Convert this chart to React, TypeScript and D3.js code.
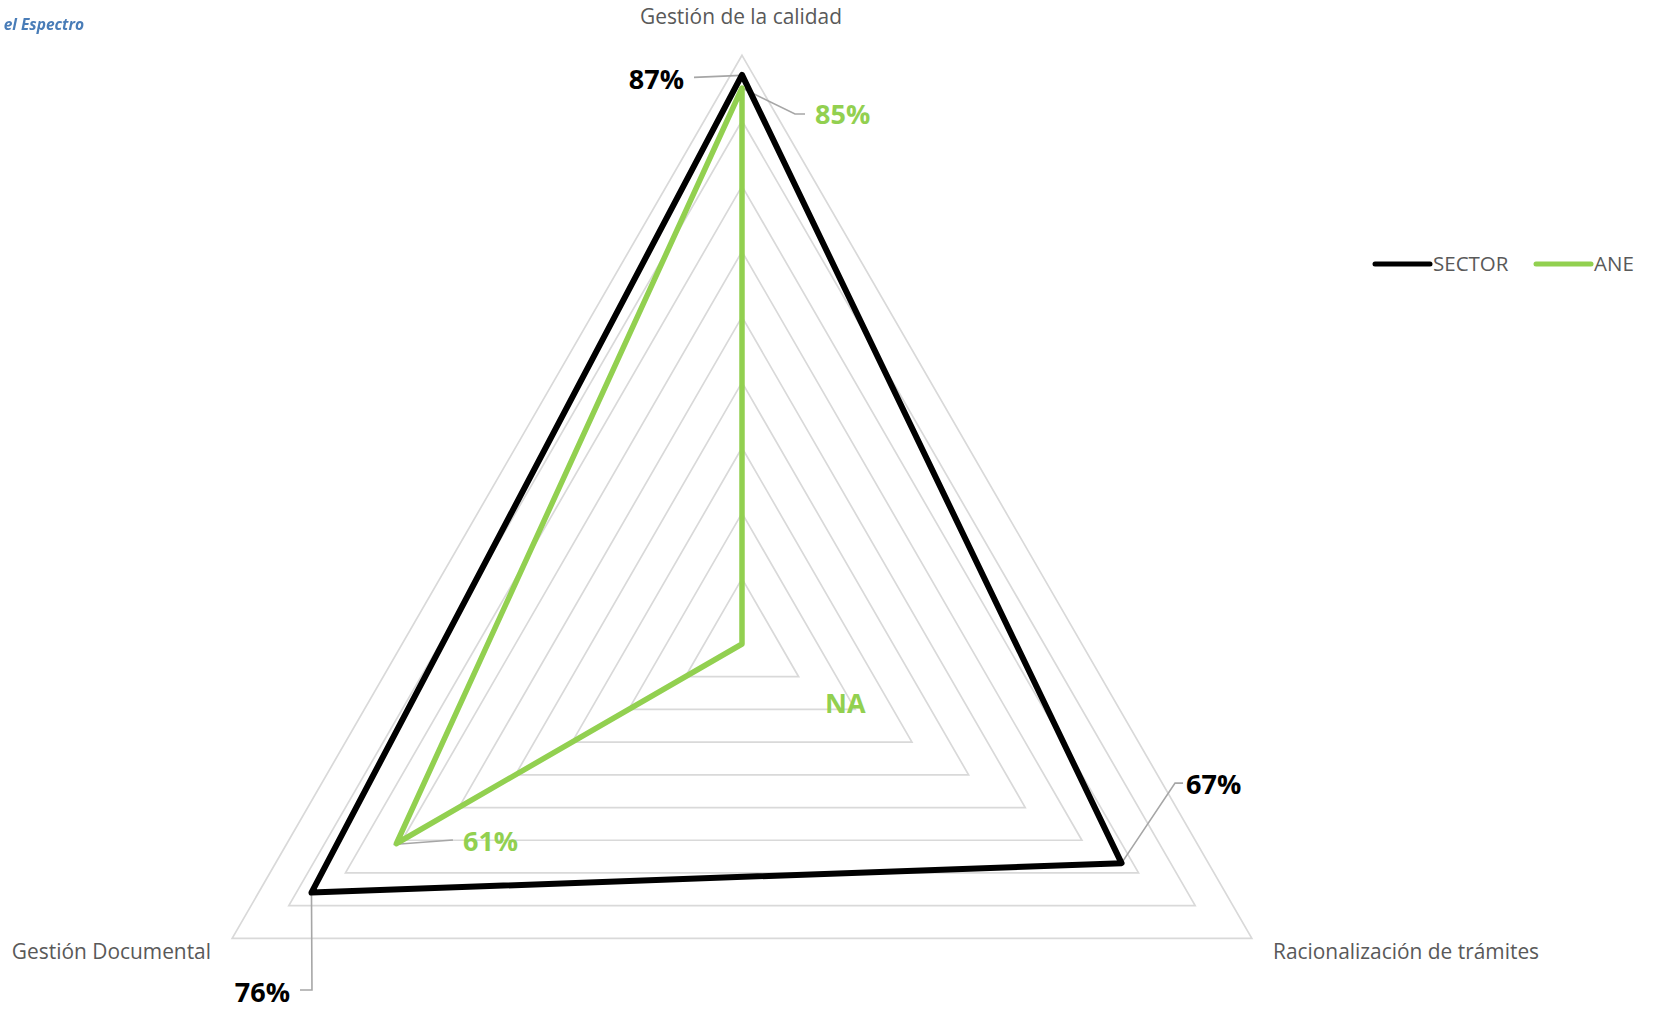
import React from "react";
import * as d3 from "d3";

const categories = ["Gestión de la calidad", "Racionalización de trámites", "Gestión Documental"];
const sectorValues: (number | null)[] = [0.87, 0.67, 0.76];
const aneValues: (number | null)[] = [0.85, null, 0.61];
const sectorLabels = ["87%", "67%", "76%"];
const aneLabels = ["85%", "NA", "61%"];
const gridTicks = [0.1, 0.2, 0.3, 0.4, 0.5, 0.6, 0.7, 0.8, 0.9];
const seriesNames = ["SECTOR", "ANE"];

const W = 1656;
const H = 1010;
const cx = 742;
const cy = 644;
const R = 588.7;
const FONT = "'Open Sans', sans-serif";
const GREEN = "#92D050";

// label placement offsets relative to each data point (layout, not data)
const sectorLabelLayout = [
  { dx: -58, dy: 13.7, anchor: "end", leader: [[-1, 0.5], [-48, 2.5]] },
  { dx: 64.5, dy: -69, anchor: "start", leader: [[0, 0], [53.5, -80], [61.5, -80]] },
  { dx: -21.5, dy: 109.4, anchor: "end", leader: [[0, 0], [0.5, 97.4], [-11.5, 97.4]] },
];
const aneLabelLayout = [
  { dx: 73, dy: 36, anchor: "start", leader: [[0, 0], [53, 26], [63, 26]] },
  { dx: 83, dy: 69, anchor: "start", leader: null },
  { dx: 66.5, dy: 7.5, anchor: "start", leader: [[-3, 1], [56.5, -3.5]] },
];

export default function App() {
  const r = d3.scaleLinear().domain([0, 0.9]).range([0, R]);
  const angle = d3
    .scaleLinear()
    .domain([0, categories.length])
    .range([0, 2 * Math.PI]);

  const pt = (i: number, v: number | null): [number, number] => {
    const a = angle(i);
    const rr = r(v ?? 0);
    return [cx + rr * Math.sin(a), cy - rr * Math.cos(a)];
  };

  const radial = d3
    .lineRadial<number | null>()
    .angle((_, i) => angle(i))
    .radius((d) => r(d ?? 0))
    .curve(d3.curveLinearClosed);

  const gridLine = d3
    .lineRadial<number>()
    .angle((_, i) => angle(i))
    .radius((d) => r(d))
    .curve(d3.curveLinearClosed);

  const series = [
    { name: seriesNames[0], values: sectorValues, labels: sectorLabels, layout: sectorLabelLayout, color: "#000000", width: 6, labelColor: "#000000" },
    { name: seriesNames[1], values: aneValues, labels: aneLabels, layout: aneLabelLayout, color: GREEN, width: 5.5, labelColor: GREEN },
  ];

  const catLabel = [
    { x: 741, y: 24, anchor: "middle" },
    { x: 1273, y: 959, anchor: "start" },
    { x: 211, y: 959, anchor: "end" },
  ];

  return (
    <svg
      width={W}
      height={H}
      style={{ position: "absolute", left: 0, top: 0, background: "#fff" }}
      fontFamily={FONT}
    >
      <defs>
        <filter id="blur" x="-10%" y="-30%" width="120%" height="160%">
          <feGaussianBlur stdDeviation="0.7" />
        </filter>
      </defs>
      <rect x={0} y={0} width={W} height={H} fill="#fff" />
      <text
        x={84}
        y={30}
        textAnchor="end"
        fontSize={15.5}
        fontWeight="bold"
        fontStyle="italic"
        fill="#4a7db8"
        filter="url(#blur)"
      >
        el Espectro
      </text>

      {/* grid */}
      <g>
        {gridTicks.map((t) => (
          <path
            key={t}
            transform={`translate(${cx},${cy})`}
            d={gridLine(categories.map(() => t)) || ""}
            fill="none"
            stroke="#d9d9d9"
            strokeWidth={1.7}
          />
        ))}
      </g>

      {/* category labels */}
      {categories.map((c, i) => (
        <text
          key={c}
          x={catLabel[i].x}
          y={catLabel[i].y}
          textAnchor={catLabel[i].anchor as any}
          fontSize={20.9}
          fill="#595959"
        >
          {c}
        </text>
      ))}

      {/* leader lines */}
      {series.map((s) =>
        s.values.map((v, i) => {
          const lay = s.layout[i];
          if (!lay.leader) return null;
          const [px, py] = pt(i, v);
          const d = d3.line()(lay.leader.map(([dx, dy]) => [px + dx, py + dy] as [number, number]));
          return (
            <path key={s.name + "l" + i} d={d || ""} fill="none" stroke="#a6a6a6" strokeWidth={1.6} />
          );
        })
      )}

      {/* series */}
      {series.map((s) => (
        <path
          key={s.name}
          transform={`translate(${cx},${cy})`}
          d={radial(s.values) || ""}
          fill="none"
          stroke={s.color}
          strokeWidth={s.width}
          strokeLinejoin="round"
        />
      ))}

      {/* data labels */}
      {series.map((s) =>
        s.values.map((v, i) => {
          const lay = s.layout[i];
          const [px, py] = pt(i, v);
          return (
            <text
              key={s.name + "t" + i}
              x={px + lay.dx}
              y={py + lay.dy}
              textAnchor={lay.anchor as any}
              fontSize={27}
              fontWeight="bold"
              fill={s.labelColor}
            >
              {s.labels[i]}
            </text>
          );
        })
      )}

      {/* legend */}
      {series.map((s, i) => {
        const lx = [1375, 1536][i];
        return (
          <g key={s.name + "leg"}>
            <line x1={lx} x2={lx + 55} y1={264} y2={264} stroke={s.color} strokeWidth={5} strokeLinecap="round" />
            <text x={lx + 58} y={271} fontSize={20.5} fill="#595959">
              {s.name}
            </text>
          </g>
        );
      })}
    </svg>
  );
}
